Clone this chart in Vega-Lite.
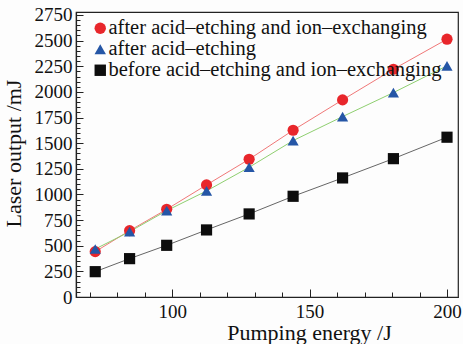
{
  "$schema": "https://vega.github.io/schema/vega-lite/v6.json",
  "autosize": "none",
  "width": 382,
  "height": 285,
  "padding": {"left": 76, "top": 12, "right": 5, "bottom": 47},
  "background": "#fdfdfd",
  "config": {
    "view": {"stroke": "#222", "strokeWidth": 1.2},
    "font": "Liberation Serif"
  },
  "data": {
    "values": [
      {"energy": 72, "output": 442, "series": "after acid–etching and ion–exchanging"},
      {"energy": 84.5, "output": 647, "series": "after acid–etching and ion–exchanging"},
      {"energy": 98, "output": 855, "series": "after acid–etching and ion–exchanging"},
      {"energy": 112.5, "output": 1093, "series": "after acid–etching and ion–exchanging"},
      {"energy": 128, "output": 1343, "series": "after acid–etching and ion–exchanging"},
      {"energy": 144, "output": 1626, "series": "after acid–etching and ion–exchanging"},
      {"energy": 162, "output": 1922, "series": "after acid–etching and ion–exchanging"},
      {"energy": 180.5, "output": 2221, "series": "after acid–etching and ion–exchanging"},
      {"energy": 200, "output": 2514, "series": "after acid–etching and ion–exchanging"},
      {"energy": 72, "output": 468, "series": "after acid–etching"},
      {"energy": 84.5, "output": 637, "series": "after acid–etching"},
      {"energy": 98, "output": 842, "series": "after acid–etching"},
      {"energy": 112.5, "output": 1034, "series": "after acid–etching"},
      {"energy": 128, "output": 1265, "series": "after acid–etching"},
      {"energy": 144, "output": 1525, "series": "after acid–etching"},
      {"energy": 162, "output": 1759, "series": "after acid–etching"},
      {"energy": 180.5, "output": 1993, "series": "after acid–etching"},
      {"energy": 200, "output": 2254, "series": "after acid–etching"},
      {"energy": 72, "output": 247, "series": "before acid–etching and ion–exchanging"},
      {"energy": 84.5, "output": 374, "series": "before acid–etching and ion–exchanging"},
      {"energy": 98, "output": 504, "series": "before acid–etching and ion–exchanging"},
      {"energy": 112.5, "output": 654, "series": "before acid–etching and ion–exchanging"},
      {"energy": 128, "output": 810, "series": "before acid–etching and ion–exchanging"},
      {"energy": 144, "output": 982, "series": "before acid–etching and ion–exchanging"},
      {"energy": 162, "output": 1161, "series": "before acid–etching and ion–exchanging"},
      {"energy": 180.5, "output": 1349, "series": "before acid–etching and ion–exchanging"},
      {"energy": 200, "output": 1558, "series": "before acid–etching and ion–exchanging"}
    ]
  },
  "resolve": {"axis": {"x": "independent", "y": "independent"}},
  "layer": [
    {
      "transform": [{"filter": "datum.series === 'after acid–etching and ion–exchanging'"}],
      "mark": {"type": "line", "strokeWidth": 1, "color": "#f07878"},
      "encoding": {
        "x": {
          "field": "energy", "type": "quantitative",
          "scale": {"domain": [65, 204], "nice": false, "zero": false},
          "axis": {
            "orient": "bottom", "values": [100, 150, 200], "format": "d", "grid": false,
            "tickSize": -8, "tickColor": "#222", "domain": true, "domainColor": "#222", "domainWidth": 1.2,
            "labelFontSize": 19, "labelColor": "#111", "labelPadding": 13,
            "title": "Pumping energy /J", "titleFontSize": 22, "titleFontWeight": "normal", "titleColor": "#111",
            "titleX": 233, "titleY": 25, "titleBaseline": "top"
          }
        },
        "y": {
          "field": "output", "type": "quantitative",
          "scale": {"domain": [0, 2779], "nice": false},
          "axis": {
            "orient": "left", "values": [0, 250, 500, 750, 1000, 1250, 1500, 1750, 2000, 2250, 2500, 2750], "format": "d", "grid": false,
            "tickSize": -7, "tickColor": "#222", "domain": true, "domainColor": "#222", "domainWidth": 1.2,
            "labelFontSize": 19, "labelColor": "#111", "labelPadding": 11, "labelBaseline": "middle",
            "title": "Laser output /mJ", "titleFontSize": 22, "titleFontWeight": "normal", "titleColor": "#111",
            "titleX": -63, "titleY": 141, "titleAngle": -90, "titleBaseline": "middle"
          }
        }
      }
    },
    {
      "transform": [{"filter": "datum.series === 'after acid–etching'"}],
      "mark": {"type": "line", "strokeWidth": 1, "color": "#8fcf70"},
      "encoding": {
        "x": {"field": "energy", "type": "quantitative", "axis": null},
        "y": {"field": "output", "type": "quantitative", "axis": null}
      }
    },
    {
      "transform": [{"filter": "datum.series === 'before acid–etching and ion–exchanging'"}],
      "mark": {"type": "line", "strokeWidth": 1, "color": "#666666"},
      "encoding": {
        "x": {"field": "energy", "type": "quantitative", "axis": null},
        "y": {"field": "output", "type": "quantitative", "axis": null}
      }
    },
    {
      "mark": {"type": "point", "filled": true, "opacity": 1, "size": 125},
      "encoding": {
        "x": {
          "field": "energy", "type": "quantitative",
          "axis": {
            "orient": "bottom", "values": [70, 80, 90, 110, 120, 130, 140, 160, 170, 180, 190], "grid": false,
            "labels": false, "tickSize": -5, "tickColor": "#222", "domain": false, "title": null
          }
        },
        "y": {
          "field": "output", "type": "quantitative",
          "axis": {
            "orient": "left", "values": [50, 100, 150, 200, 300, 350, 400, 450, 550, 600, 650, 700, 800, 850, 900, 950, 1050, 1100, 1150, 1200, 1300, 1350, 1400, 1450, 1550, 1600, 1650, 1700, 1800, 1850, 1900, 1950, 2050, 2100, 2150, 2200, 2300, 2350, 2400, 2450, 2550, 2600, 2650, 2700], "grid": false,
            "labels": false, "tickSize": -4, "tickColor": "#222", "domain": false, "title": null
          }
        },
        "color": {
          "field": "series", "type": "nominal",
          "scale": {
            "domain": ["after acid–etching and ion–exchanging", "after acid–etching", "before acid–etching and ion–exchanging"],
            "range": ["#e8262b", "#2556a6", "#0d0d0d"]
          },
          "legend": {
            "orient": "top-left", "offset": 6, "title": null,
            "labelFontSize": 20.5, "labelColor": "#111", "labelLimit": 400, "symbolSize": 130, "symbolStrokeWidth": 0,
            "symbolOffset": 8, "rowPadding": -1.5, "labelOffset": -2, "padding": 0
          }
        },
        "shape": {
          "field": "series", "type": "nominal",
          "scale": {
            "domain": ["after acid–etching and ion–exchanging", "after acid–etching", "before acid–etching and ion–exchanging"],
            "range": ["circle", "triangle-up", "square"]
          },
          "legend": {
            "orient": "top-left", "offset": 6, "title": null,
            "labelFontSize": 20.5, "labelColor": "#111", "labelLimit": 400, "symbolSize": 130, "symbolStrokeWidth": 0,
            "symbolOffset": 8, "rowPadding": -1.5, "labelOffset": -2, "padding": 0
          }
        }
      }
    }
  ]
}
